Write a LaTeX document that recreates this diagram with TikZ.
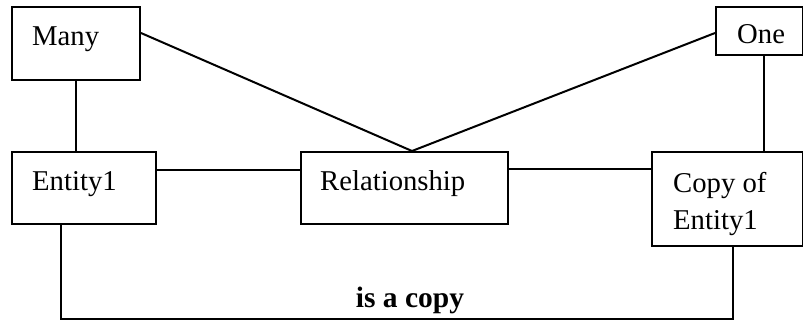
\documentclass[tikz,border=0pt]{standalone}
\usepackage{fontspec}
\setmainfont{Liberation Serif}
\begin{document}
\begin{tikzpicture}[x=1pt,y=-1pt,
  box/.style={draw=black, line width=2pt, minimum width=#1, inner sep=0pt, anchor=north west},
  lbl/.style={anchor=base west, inner sep=0pt, font=\fontsize{28.7}{37}\selectfont},
  conn/.style={draw=black, line width=2pt}]
\useasboundingbox (0,0) rectangle (803,322);
% boxes
\node[box=128pt, minimum height=73pt] (many) at (11,6) {};
\node[box=144pt, minimum height=72pt] (ent) at (11,151) {};
\node[box=207pt, minimum height=72pt] (rel) at (300,151) {};
\node[box=86.5pt, minimum height=48pt] (one) at (715,6) {};
\node[box=150.5pt, minimum height=94pt] (copy) at (651,151) {};
% texts
\node[lbl] (manyt) at (32,45) {Many};
\node[lbl] (entt) at (32,190) {Entity1};
\node[lbl] (relt) at (320,190) {Relationship};
\node[lbl] (onet) at (737,43) {One};
\node[lbl] (copyt) at (673,192) {Copy of};
\node[lbl] (copyt2) at (673,229) {Entity1};
% connectors
\draw[conn] (many.south) -- (many.south |- ent.north);
\draw[conn] ([yshift=10.5pt]many.east) -- ([xshift=7.5pt]rel.north);
\draw[conn] ([yshift=-2pt]one.west) -- ([xshift=7.5pt]rel.north);
\draw[conn] ([xshift=5pt]one.south) -- ([xshift=5pt]one.south |- copy.north);
\draw[conn] ([yshift=18pt]ent.east) -- ([yshift=18pt]ent.east -| rel.west);
\draw[conn] ([yshift=19pt]rel.east) -- ([yshift=19pt]rel.east -| copy.west);
\coordinate (b1) at ([xshift=-23pt]ent.south |- 0,319);
\coordinate (b2) at ([xshift=5.75pt]copy.south |- 0,319);
\draw[conn] ([xshift=-23pt]ent.south) -- (b1) -- (b2) -- ([xshift=5.75pt]copy.south);
\node[anchor=base, inner sep=0pt, font=\fontsize{29.5}{34}\selectfont\bfseries] (isacopy) at (410,307) {is a copy};
\end{tikzpicture}
\end{document}
